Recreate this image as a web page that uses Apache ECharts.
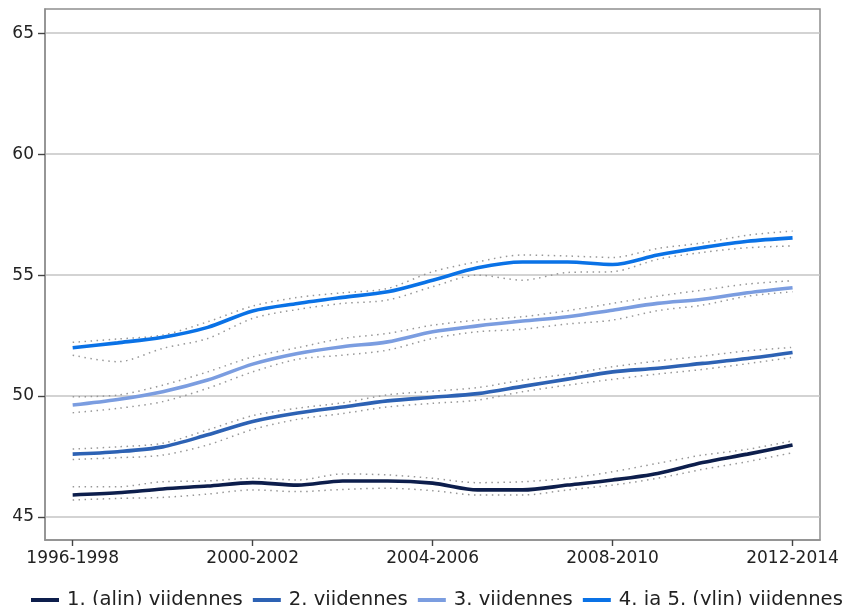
<!DOCTYPE html>
<html>
<head>
<meta charset="utf-8">
<script src="https://cdn.jsdelivr.net/npm/echarts@6/dist/echarts.min.js"></script>
<style>html,body{margin:0;padding:0;background:#fff}#c{width:849px;height:605px}</style>
</head>
<body>
<div id="c"></div>
<script>
var categories = ["1996-1998","1997-1999","1998-2000","1999-2001","2000-2002","2001-2003","2002-2004","2003-2005","2004-2006","2005-2007","2006-2008","2007-2009","2008-2010","2009-2011","2010-2012","2011-2013","2012-2014"];
var xTickIdx = [0, 4, 8, 12, 16];
var yTicks = [45, 50, 55, 60, 65];

var names = ["1. (alin) viidennes", "2. viidennes", "3. viidennes", "4. ja 5. (ylin) viidennes"];

var q1 = [45.91, 46.0, 46.16, 46.28, 46.42, 46.32, 46.49, 46.49, 46.4, 46.12, 46.12, 46.32, 46.53, 46.8, 47.25, 47.6, 47.98];
var q1Hi = [46.25, 46.25, 46.46, 46.49, 46.6, 46.53, 46.78, 46.74, 46.6, 46.42, 46.46, 46.6, 46.87, 47.22, 47.56, 47.8, 48.15];
var q1Lo = [45.7, 45.77, 45.81, 45.95, 46.12, 46.05, 46.14, 46.19, 46.09, 45.91, 45.91, 46.12, 46.32, 46.6, 46.97, 47.29, 47.66];

var q2 = [47.6, 47.7, 47.9, 48.4, 48.95, 49.3, 49.55, 49.8, 49.95, 50.1, 50.4, 50.7, 51.0, 51.15, 51.35, 51.55, 51.8];
var q2Hi = [47.81, 47.9, 48.05, 48.6, 49.19, 49.5, 49.72, 50.05, 50.2, 50.35, 50.66, 50.91, 51.21, 51.45, 51.65, 51.87, 52.01];
var q2Lo = [47.38, 47.45, 47.56, 47.98, 48.62, 49.04, 49.28, 49.55, 49.7, 49.83, 50.18, 50.45, 50.69, 50.91, 51.1, 51.34, 51.6];

var q3 = [49.63, 49.86, 50.18, 50.66, 51.32, 51.76, 52.04, 52.24, 52.66, 52.9, 53.1, 53.28, 53.55, 53.83, 54.0, 54.27, 54.48];
var q3Hi = [49.97, 50.04, 50.45, 51.0, 51.62, 52.0, 52.38, 52.59, 52.93, 53.14, 53.28, 53.53, 53.83, 54.13, 54.38, 54.63, 54.77];
var q3Lo = [49.31, 49.49, 49.77, 50.32, 51.0, 51.52, 51.69, 51.9, 52.38, 52.66, 52.76, 52.98, 53.14, 53.53, 53.76, 54.13, 54.31];

var q4 = [52.0, 52.2, 52.43, 52.84, 53.52, 53.83, 54.08, 54.31, 54.79, 55.3, 55.54, 55.54, 55.44, 55.83, 56.14, 56.4, 56.54];
var q4Hi = [52.22, 52.36, 52.52, 53.07, 53.72, 54.08, 54.27, 54.45, 55.14, 55.55, 55.83, 55.79, 55.73, 56.1, 56.33, 56.65, 56.82];
var q4Lo = [51.69, 51.42, 51.97, 52.38, 53.21, 53.58, 53.83, 53.97, 54.52, 55.0, 54.79, 55.11, 55.14, 55.65, 55.94, 56.13, 56.21];

var colors = ["#0d1e4c", "#2d62b4", "#7b9de0", "#0a72e6"];

function pairs(arr) { return arr.map(function (v, i) { return [i, v]; }); }

var mains = [q1, q2, q3, q4];
var his = [q1Hi, q2Hi, q3Hi, q4Hi];
var los = [q1Lo, q2Lo, q3Lo, q4Lo];

var series = [];
for (var k = 0; k < 4; k++) {
  [his[k], los[k]].forEach(function (arr, j) {
    series.push({
      name: 'ci' + k + '_' + j,
      type: 'line',
      data: pairs(arr),
      symbol: 'none',
      smooth: 0.3,
      silent: true,
      z: 1,
      lineStyle: { color: '#989898', width: 1.5, type: [1.5, 4.5] }
    });
  });
}
for (var k2 = 0; k2 < 4; k2++) {
  series.push({
    name: names[k2],
    type: 'line',
    data: pairs(mains[k2]),
    symbol: 'none',
    smooth: 0.3,
    z: 3,
    color: colors[k2],
    lineStyle: { color: colors[k2], width: 3.6 }
  });
}

var chart = echarts.init(document.getElementById('c'), null, { renderer: 'canvas' });
chart.setOption({
  animation: false,
  backgroundColor: '#ffffff',
  grid: {
    left: 45, right: 29, top: 9, bottom: 65,
    show: true, borderColor: '#8f8f8f', borderWidth: 1.5, backgroundColor: 'transparent'
  },
  legend: {
    data: names,
    left: 26,
    top: 585,
    icon: 'rect',
    itemWidth: 28,
    itemHeight: 4,
    itemGap: 10,
    textStyle: { fontFamily: 'DejaVu Sans', fontSize: 19.6, color: '#222', padding: [0, 0, 0, 3] }
  },
  xAxis: {
    type: 'value',
    position: 'bottom',
    min: -0.615,
    max: 16.61,
    axisLine: { show: true, onZero: false, lineStyle: { color: '#8f8f8f', width: 1.5 } },
    splitLine: { show: false },
    axisTick: { show: true, inside: false, length: 6, customValues: xTickIdx, lineStyle: { color: '#444', width: 1.4 } },
    axisLabel: {
      customValues: xTickIdx,
      margin: 10,
      fontFamily: 'DejaVu Sans', fontSize: 17, color: '#222',
      formatter: function (v) { return categories[Math.round(v)]; }
    }
  },
  yAxis: {
    type: 'value',
    position: 'left',
    min: 44.05,
    max: 66.0,
    axisLine: { show: true, onZero: false, lineStyle: { color: '#8f8f8f', width: 1.5 } },
    axisTick: { show: true, inside: false, length: 7, customValues: yTicks, lineStyle: { color: '#444', width: 1.4 } },
    axisLabel: { customValues: yTicks, margin: 11, fontFamily: 'DejaVu Sans', fontSize: 17, color: '#222' },
    splitLine: { show: true, lineStyle: { color: '#c4c4c4', width: 1.5 } }
  },
  series: series
});
</script>
</body>
</html>
